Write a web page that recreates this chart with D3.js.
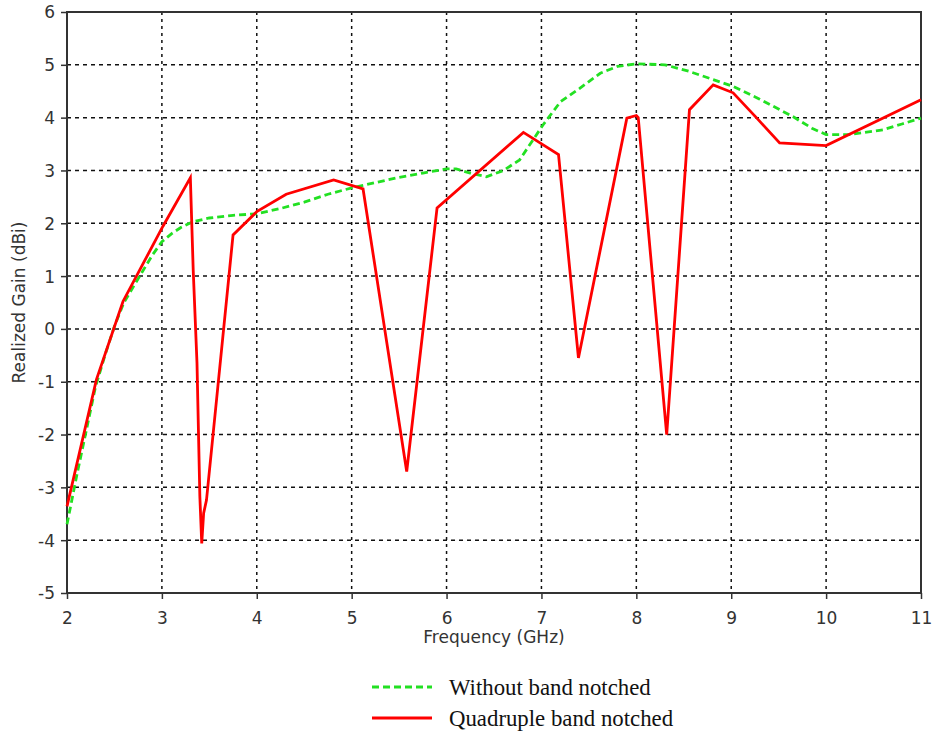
<!DOCTYPE html>
<html>
<head>
<meta charset="utf-8">
<script src="https://cdn.jsdelivr.net/npm/d3@7"></script>
<style>
  body { margin: 0; background: #fff; }
  svg { display: block; }
</style>
</head>
<body>
<div id="chart"></div>
<script>
// Without band notched (green dashed)
const freqPlain = [2.0, 2.1, 2.2, 2.3, 2.4, 2.5, 2.6, 2.7, 2.8, 2.9, 3.0, 3.1, 3.2, 3.33, 3.5, 3.75, 4.0, 4.25, 4.5, 4.75, 5.0, 5.25, 5.5, 5.75, 6.0, 6.1, 6.25, 6.42, 6.6, 6.77, 6.9, 7.02, 7.2, 7.4, 7.62, 7.8, 8.0, 8.3, 8.55, 8.81, 9.02, 9.3, 9.65, 9.85, 10.0, 10.25, 10.6, 10.8, 11.0];
const gainPlain = [-3.7, -2.8, -1.95, -1.1, -0.5, 0.05, 0.5, 0.8, 1.1, 1.4, 1.65, 1.8, 1.92, 2.03, 2.1, 2.15, 2.18, 2.28, 2.4, 2.55, 2.67, 2.77, 2.87, 2.95, 3.03, 3.03, 2.95, 2.88, 3.0, 3.2, 3.55, 3.87, 4.3, 4.55, 4.84, 4.97, 5.02, 5.0, 4.88, 4.72, 4.59, 4.35, 4.02, 3.8, 3.68, 3.68, 3.77, 3.88, 3.99];

// Quadruple band notched (red solid)
const freqNotch = [2.0, 2.31, 2.59, 3.01, 3.30, 3.33, 3.37, 3.40, 3.42, 3.44, 3.47, 3.75, 4.0, 4.31, 4.81, 5.12, 5.58, 5.90, 6.81, 7.18, 7.39, 7.90, 8.0, 8.02, 8.32, 8.56, 8.81, 9.02, 9.27, 9.51, 10.0, 11.0];
const gainNotch = [-3.36, -0.96, 0.52, 1.94, 2.86, 1.12, -0.65, -3.17, -4.06, -3.49, -3.24, 1.78, 2.22, 2.55, 2.82, 2.65, -2.7, 2.29, 3.72, 3.30, -0.55, 3.99, 4.04, 4.0, -2.0, 4.15, 4.62, 4.47, 3.99, 3.52, 3.47, 4.34];

const xTicks = [2, 3, 4, 5, 6, 7, 8, 9, 10, 11];
const yTicks = [-5, -4, -3, -2, -1, 0, 1, 2, 3, 4, 5, 6];

const seriesNames = ['Without band notched', 'Quadruple band notched'];
const seriesColors = ['#22e022', '#ff0000'];

const W = 933, H = 735;
const margin = { top: 12, right: 12, bottom: 142, left: 67 };
const innerW = W - margin.left - margin.right;
const innerH = H - margin.top - margin.bottom;

const svg = d3.select('#chart').append('svg')
  .attr('width', W)
  .attr('height', H);

const g = svg.append('g')
  .attr('transform', 'translate(' + margin.left + ',' + margin.top + ')');

const x = d3.scaleLinear().domain([2, 11]).range([0, innerW]);
const y = d3.scaleLinear().domain([-5, 6]).range([innerH, 0]);

const tickFont = '"DejaVu Sans", sans-serif';

// grid
g.selectAll('.vgrid').data(xTicks.slice(1, -1)).enter().append('line')
  .attr('x1', d => x(d)).attr('x2', d => x(d))
  .attr('y1', 0).attr('y2', innerH)
  .attr('stroke', '#111').attr('stroke-width', 1.5)
  .attr('stroke-dasharray', '3,4');

g.selectAll('.hgrid').data(yTicks.slice(1, -1)).enter().append('line')
  .attr('x1', 0).attr('x2', innerW)
  .attr('y1', d => y(d)).attr('y2', d => y(d))
  .attr('stroke', '#111').attr('stroke-width', 1.5)
  .attr('stroke-dasharray', '4,4');

// axes (plain hyphen minus like the original)
const fmt = d => String(d);
const xAxis = g.append('g')
  .attr('transform', 'translate(0,' + innerH + ')')
  .call(d3.axisBottom(x).tickValues(xTicks).tickSize(6).tickPadding(13).tickFormat(fmt));
const yAxis = g.append('g')
  .call(d3.axisLeft(y).tickValues(yTicks).tickSize(6).tickPadding(6).tickFormat(fmt));

[xAxis, yAxis].forEach(a => {
  a.select('.domain').remove();
  a.selectAll('line').attr('stroke', '#333').attr('stroke-width', 1.5);
  a.selectAll('text')
    .style('font-family', tickFont)
    .style('font-size', '17px')
    .attr('fill', '#333');
});
yAxis.selectAll('.tick text').attr('dy', '0.35em');

// frame
g.append('rect')
  .attr('width', innerW).attr('height', innerH)
  .attr('fill', 'none')
  .attr('stroke', '#333').attr('stroke-width', 2);

// lines
const line = d3.line().x(d => x(d[0])).y(d => y(d[1]));

g.append('path')
  .datum(d3.zip(freqPlain, gainPlain))
  .attr('d', line)
  .attr('fill', 'none')
  .attr('stroke', seriesColors[0])
  .attr('stroke-width', 2.8)
  .attr('stroke-dasharray', '7,4');

g.append('path')
  .datum(d3.zip(freqNotch, gainNotch))
  .attr('d', line)
  .attr('fill', 'none')
  .attr('stroke', seriesColors[1])
  .attr('stroke-width', 2.8)
  .attr('stroke-linejoin', 'miter');

// axis titles
svg.append('text')
  .attr('x', margin.left + innerW / 2)
  .attr('y', 643)
  .attr('text-anchor', 'middle')
  .style('font-family', tickFont)
  .style('font-size', '17px')
  .attr('fill', '#333')
  .text('Frequency (GHz)');

svg.append('text')
  .attr('transform', 'translate(25,' + (margin.top + innerH / 2) + ') rotate(-90)')
  .attr('text-anchor', 'middle')
  .style('font-family', tickFont)
  .style('font-size', '17px')
  .attr('fill', '#333')
  .text('Realized Gain (dBi)');

// legend
const legend = svg.append('g').attr('transform', 'translate(372,687)');
seriesNames.forEach((name, i) => {
  const row = legend.append('g').attr('transform', 'translate(0,' + (i * 31) + ')');
  row.append('line')
    .attr('x1', 0).attr('x2', 60)
    .attr('stroke', seriesColors[i])
    .attr('stroke-width', 2.8)
    .attr('stroke-dasharray', i === 0 ? '7,4' : null);
  row.append('text')
    .attr('x', 77).attr('dy', '0.35em')
    .style('font-family', '"Liberation Serif", serif')
    .style('font-size', '22.8px')
    .attr('fill', '#111')
    .text(name);
});
</script>
</body>
</html>
